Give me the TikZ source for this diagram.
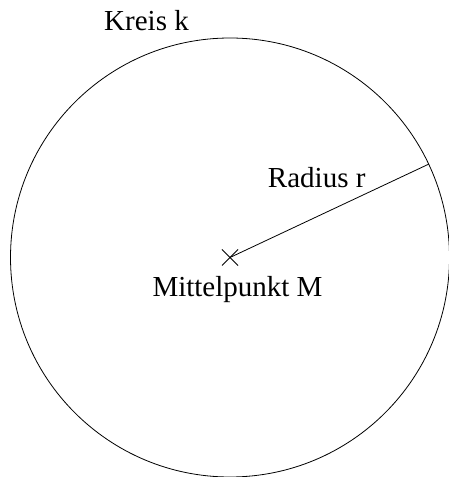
\documentclass[tikz,border=0pt]{standalone}
\usepackage{fontspec}
\setmainfont{Liberation Serif}
\usepackage{tikz}
\usetikzlibrary{positioning}

\tikzset{
  kreislinie/.style={black, line width=0.8pt},
  beschriftung/.style={anchor=base, inner sep=0pt, font=\fontsize{29}{34}\selectfont}
}

\begin{document}
\begin{tikzpicture}[x=1pt, y=1pt]
\useasboundingbox (0,0) rectangle (448,477);

% Kreis und Mittelpunkt
\coordinate (M) at (230,219.5);
\coordinate (R) at (429,313);
\draw[kreislinie] (M) circle (219.5pt);

% Kreuz im Mittelpunkt
\draw[kreislinie] (M) ++(-8,-8) -- ++(16,16);
\draw[kreislinie] (M) ++(-8,8) -- ++(16,-16);

% Radius
\draw[kreislinie] (M) -- (R);

% Beschriftungen
\node[beschriftung] (kreis) at (146.5,446.5) {Kreis k};
\node[beschriftung] (radius) at (316.7,289) {Radius r};
\node[beschriftung] (mitte) at (237.5,180.3) {Mittelpunkt M};

\end{tikzpicture}
\end{document}
